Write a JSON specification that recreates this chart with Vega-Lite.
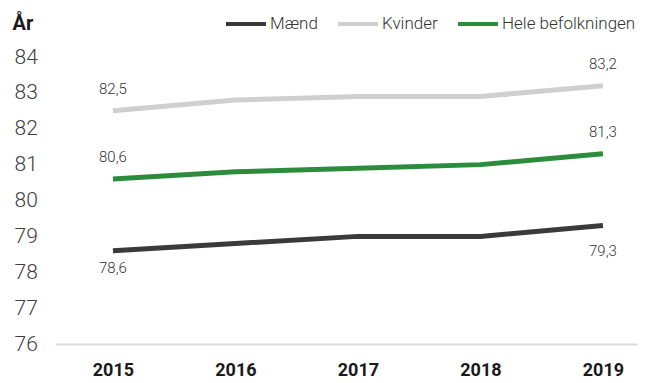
{
  "$schema": "https://vega.github.io/schema/vega-lite/v6.json",
  "width": 582,
  "height": 287,
  "autosize": {"type": "none"},
  "padding": {"left": 55, "top": 57, "right": 9, "bottom": 39},
  "background": "white",
  "config": {
    "view": {"stroke": null},
    "font": "Roboto",
    "axis": {"grid": false, "ticks": false},
    "locale": {
      "number": {"decimal": ",", "thousands": ".", "grouping": [3], "currency": ["", " kr."]}
    }
  },
  "data": {
    "values": [
      {"year": 2015, "series": "Mænd", "value": 78.6},
      {"year": 2016, "series": "Mænd", "value": 78.8},
      {"year": 2017, "series": "Mænd", "value": 79.0},
      {"year": 2018, "series": "Mænd", "value": 79.0},
      {"year": 2019, "series": "Mænd", "value": 79.3},
      {"year": 2015, "series": "Kvinder", "value": 82.5},
      {"year": 2016, "series": "Kvinder", "value": 82.8},
      {"year": 2017, "series": "Kvinder", "value": 82.9},
      {"year": 2018, "series": "Kvinder", "value": 82.9},
      {"year": 2019, "series": "Kvinder", "value": 83.2},
      {"year": 2015, "series": "Hele befolkningen", "value": 80.6},
      {"year": 2016, "series": "Hele befolkningen", "value": 80.8},
      {"year": 2017, "series": "Hele befolkningen", "value": 80.9},
      {"year": 2018, "series": "Hele befolkningen", "value": 81.0},
      {"year": 2019, "series": "Hele befolkningen", "value": 81.3}
    ]
  },
  "encoding": {
    "x": {
      "field": "year",
      "type": "quantitative",
      "scale": {"domain": [2014.527, 2019.278], "nice": false, "zero": false},
      "axis": {
        "values": [2015, 2016, 2017, 2018, 2019],
        "format": "d",
        "title": null,
        "labelFontSize": 18,
        "labelFontWeight": "bold",
        "labelColor": "#1a1a1a",
        "labelPadding": 17,
        "domain": true,
        "domainColor": "#d9d9d9",
        "domainWidth": 2
      }
    },
    "y": {
      "field": "value",
      "type": "quantitative",
      "scale": {"domain": [76, 84], "nice": false, "zero": false},
      "axis": {
        "values": [76, 77, 78, 79, 80, 81, 82, 83, 84],
        "domain": false,
        "labelAlign": "left",
        "labelPadding": 41,
        "labelFontSize": 21,
        "labelFontWeight": 300,
        "labelColor": "#404040",
        "title": "År",
        "titleAngle": 0,
        "titleAlign": "left",
        "titleBaseline": "alphabetic",
        "titleX": -43,
        "titleY": -28,
        "titleFontSize": 20,
        "titleFontWeight": "bold",
        "titleColor": "#1a1a1a"
      }
    }
  },
  "layer": [
    {
      "mark": {"type": "line", "strokeWidth": 5, "strokeCap": "butt"},
      "encoding": {
        "color": {
          "field": "series",
          "type": "nominal",
          "scale": {
            "domain": ["Mænd", "Kvinder", "Hele befolkningen"],
            "range": ["#3a3a3a", "#d0cfcf", "#2b8c3c"]
          },
          "legend": {
            "title": null,
            "orient": "none",
            "direction": "horizontal",
            "legendX": 169,
            "legendY": -55,
            "symbolType": "stroke",
            "symbolSize": 1600,
            "symbolStrokeWidth": 4,
            "labelFontSize": 17,
            "labelFontWeight": 300,
            "labelColor": "#333333",
            "labelOffset": 2,
            "columnPadding": 12
          }
        }
      }
    },
    {
      "transform": [{"filter": "datum.series === 'Kvinder' && (datum.year === 2015 || datum.year === 2019)"}],
      "mark": {"type": "text", "dy": -22, "fontSize": 15, "fontWeight": 300, "color": "#333333"},
      "encoding": {"text": {"field": "value", "type": "quantitative", "format": ".1f"}}
    },
    {
      "transform": [{"filter": "datum.series === 'Hele befolkningen' && (datum.year === 2015 || datum.year === 2019)"}],
      "mark": {"type": "text", "dy": -22, "fontSize": 15, "fontWeight": 300, "color": "#333333"},
      "encoding": {"text": {"field": "value", "type": "quantitative", "format": ".1f"}}
    },
    {
      "transform": [{"filter": "datum.series === 'Mænd' && datum.year === 2015"}],
      "mark": {"type": "text", "dy": 17, "fontSize": 15, "fontWeight": 300, "color": "#333333"},
      "encoding": {"text": {"field": "value", "type": "quantitative", "format": ".1f"}}
    },
    {
      "transform": [{"filter": "datum.series === 'Mænd' && datum.year === 2019"}],
      "mark": {"type": "text", "dy": 25, "fontSize": 15, "fontWeight": 300, "color": "#333333"},
      "encoding": {"text": {"field": "value", "type": "quantitative", "format": ".1f"}}
    }
  ]
}
